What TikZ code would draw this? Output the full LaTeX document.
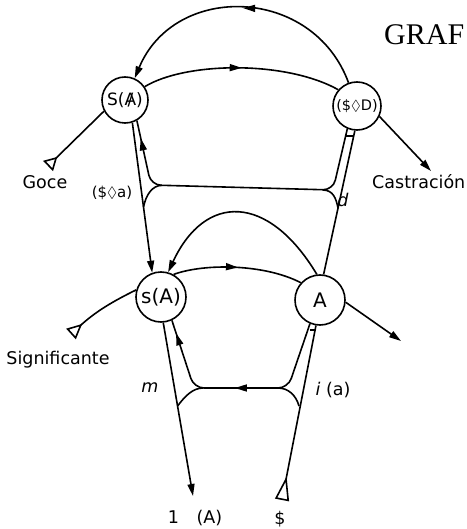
\documentclass[tikz,border=0pt]{standalone}
\usepackage{amssymb}
\usepackage{fontspec}
\newfontfamily\lab{DejaVu Sans}
\newfontfamily\graf{Liberation Serif}
\usetikzlibrary{arrows.meta, decorations.markings}
\newcommand{\barA}{\ooalign{A\cr\hidewidth/\hidewidth\cr}}
\newcommand{\fsz}[1]{\fontsize{#1}{#1}\selectfont}

\tikzset{
	knot/.style={circle, draw, line width=1.6pt, inner sep=0pt, minimum size=#1},
	vec/.style={line width=1.6pt},
	headtip/.style={-{Triangle[length=12pt,width=7pt]}},
	tailtri/.style={{Triangle[open,reversed,length=#1,width=14pt]}-},
	tailtri/.default=13pt,
	midhead/.style={postaction={decorate}, decoration={markings,
		mark=at position #1 with {\arrow{Triangle[length=12pt,width=7pt]}}}},
	midback/.style={postaction={decorate}, decoration={markings,
		mark=at position #1 with {\arrowreversed{Triangle[length=12pt,width=7pt]}}}},
	twoback/.style 2 args={postaction={decorate}, decoration={markings,
		mark=at position #1 with {\arrowreversed{Triangle[length=12pt,width=7pt]}},
		mark=at position #2 with {\arrowreversed{Triangle[length=12pt,width=7pt]}}}},
	tag/.style={font={\lab\fsz{17.5}}, inner sep=1pt}
}

\begin{document}
\begin{tikzpicture}[x=1pt, y=1pt]

	\useasboundingbox (0,0) rectangle (466,-529);

	% the four knots
	\node[knot=46pt, font={\lab\fsz{17}}] (SA) at (125,-100) {S(\barA)};
	\node[knot=48pt, font={\lab\fsz{14.5}}] (SD) at (357,-106) {(\$$\Diamond$D)};
	\node[knot=50pt, font={\lab\fsz{20}}] (sA) at (161,-297) {s(A)};
	\node[knot=50pt, font={\lab\fsz{20}}] (A) at (320,-300) {A};

	% free ends
	\coordinate (g0) at (48,-166);
	\coordinate (c1) at (431,-171);
	\coordinate (s0) at (71,-334);
	\coordinate (a1) at (401,-341);
	\coordinate (i0) at (193,-496);
	\coordinate (b0) at (282,-500);

	% upper level
	\draw[vec, headtip, midhead=0.5] (SD.110) .. controls (313,14) and (175,18) .. (SA.66);
	\draw[vec, midhead=0.5] (SA.34) .. controls (185,-62) and (285,-60) .. (SD.139);
	\draw[vec, tailtri] (g0) -- (SA.208);
	\draw[vec, headtip] (SD.-25) -- (c1);

	% upper channel
	\draw[vec, headtip] (SA.-72) -- (sA.110);
	\draw[vec, rounded corners=10pt, midback=0.06] (SA.-60) -- (151,-185) -- (333,-190) -- (SD.-113);
	\draw[vec] (162,-185.3) .. controls (152,-185.5) and (146,-195) .. (143.5,-207);
	\draw[vec] (323,-190) .. controls (333,-190.2) and (336,-198) .. (338,-208);
	\draw[vec] (SD.-95) -- (A.82);
	\draw[vec] (345.7,-136) -- (353.6,-136);

	% lower level
	\draw[vec, headtip] (A.97) .. controls (268,-193) and (205,-193) .. (sA.74);
	\draw[vec, midhead=0.5] (sA.61) .. controls (205,-263) and (265,-264) .. (A.138);
	\draw[vec, tailtri=15pt] (s0) to[bend left=8] (sA.164);
	\draw[vec, headtip] (A.-5) -- (a1);

	% lower channel
	\draw[vec, headtip] (sA.-85) -- (i0);
	\draw[vec, rounded corners=10pt, twoback={0.06}{0.48}] (sA.-65) -- (194,-388) -- (288,-388) -- (A.-113);
	\draw[vec] (203,-388) .. controls (193,-388) and (185,-396) .. (177.6,-406);
	\draw[vec] (278,-388) .. controls (288,-388) and (296,-395) .. (299,-406);
	\draw[vec, tailtri=24pt] (b0) -- (A.-99);
	\draw[vec] (309.5,-330) -- (314.8,-330);

	% labels
	\node[anchor=base west, inner sep=0pt, font={\graf\fsz{30}}] (title) at (384,-45) {GRAF};
	\node[tag] (goce) at (45,-182) {Goce};
	\node[tag, anchor=west, inner sep=0pt] (castr) at (372,-182) {Castración};
	\node[tag] (signif) at (58,-360) {Significante};
	\node[tag, font={\lab\fsz{15}}] (sda) at (112,-193) {(\$$\Diamond$a)};
	\node[tag, font={\lab\itshape\fsz{17.5}}] (dlab) at (343,-200) {d};
	\node[tag, font={\lab\itshape\fsz{17.5}}] (mlab) at (150,-388) {m};
	\node[tag] (ialab) at (333,-390) {\textit{i} (a)};
	\node[tag] (ilab) at (195,-518) {1\quad(A)};
	\node[tag] (sblab) at (280,-519) {\$};

\end{tikzpicture}
\end{document}
